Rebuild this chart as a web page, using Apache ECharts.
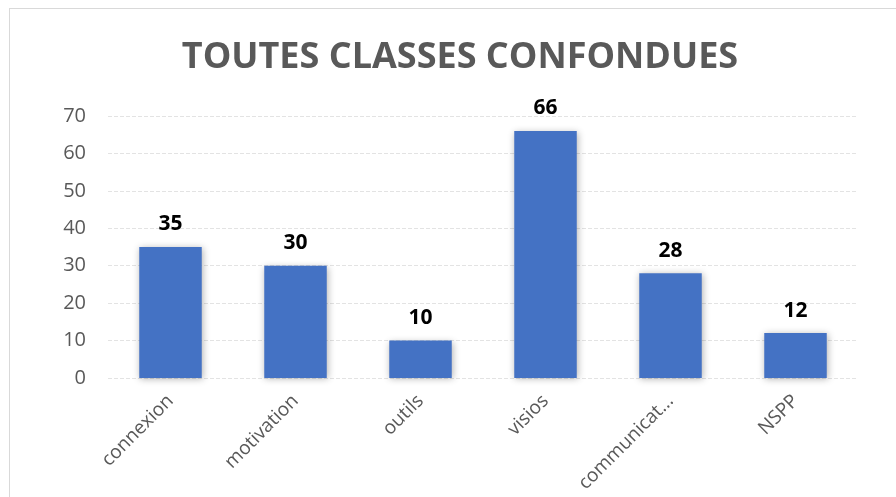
<!DOCTYPE html>
<html>
<head>
<meta charset="utf-8">
<script src="https://cdn.jsdelivr.net/npm/echarts@6/dist/echarts.min.js"></script>
<style>
  html, body { margin: 0; padding: 0; background: #fff; }
  #cadre { position: absolute; left: 9px; top: 8px; width: 900px; height: 500px; border: 1px solid #d9d9d9; }
  #chart { position: absolute; left: 0; top: 0; width: 896px; height: 497px; }
</style>
</head>
<body>
<div id="cadre"></div>
<div id="chart"></div>
<script>
// catégories et valeurs
var categories = ['connexion', 'motivation', 'outils', 'visios', 'communication', 'NSPP'];
var valeurs = [35, 30, 10, 66, 28, 12];
var yTicks = [0, 10, 20, 30, 40, 50, 60, 70];

var myChart = echarts.init(document.getElementById('chart'));

var option = {
    animation: false,
    title: {
        text: 'TOUTES CLASSES CONFONDUES',
        left: 455,
        textAlign: 'center',
        top: 35,
        textStyle: {
            fontFamily: 'Open Sans',
            fontWeight: 'bold',
            fontSize: 36,
            color: '#595959'
        }
    },
    grid: {
        left: 108,
        right: 38,
        top: 116,
        bottom: 119,
        outerBoundsMode: 'none'
    },
    xAxis: {
        type: 'category',
        data: categories,
        axisLine: { show: false },
        axisTick: { show: false },
        axisLabel: {
            rotate: 45,
            interval: 0,
            margin: 20,
            color: '#595959',
            fontFamily: 'Open Sans',
            fontSize: 19,
            width: 128,
            overflow: 'truncate',
            ellipsis: '...'
        }
    },
    yAxis: {
        type: 'value',
        min: yTicks[0],
        max: yTicks[yTicks.length - 1],
        interval: 10,
        axisLabel: {
            color: '#595959',
            fontFamily: 'Open Sans',
            fontSize: 20,
            margin: 22
        },
        splitLine: { lineStyle: { color: '#e3e3e3', type: 'dashed', width: 1 } }
    },
    series: [{
        type: 'bar',
        data: valeurs,
        barWidth: '50%',
        itemStyle: {
            color: '#4472C4',
            shadowBlur: 7,
            shadowColor: 'rgba(0,0,0,0.3)',
            shadowOffsetX: 1,
            shadowOffsetY: 1
        },
        label: {
            show: true,
            position: 'top',
            distance: 12,
            color: '#000',
            fontFamily: 'Open Sans',
            fontWeight: 'bold',
            fontSize: 21
        }
    }]
};

myChart.setOption(option);
</script>
</body>
</html>
